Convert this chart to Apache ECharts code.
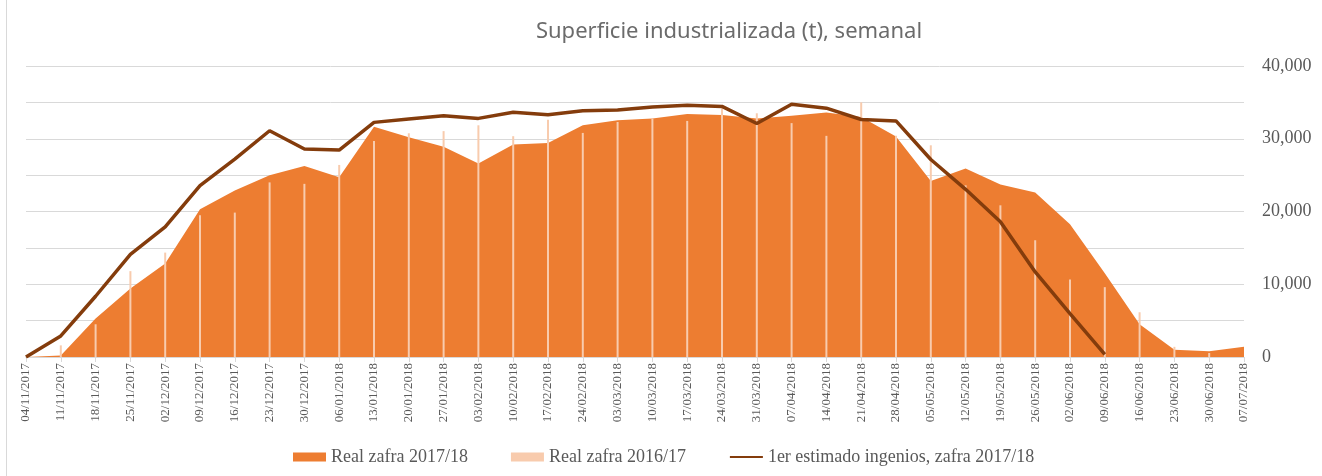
<!DOCTYPE html>
<html>
<head>
<meta charset="utf-8">
<script src="https://cdn.jsdelivr.net/npm/echarts@6/dist/echarts.min.js"></script>
<style>
html, body { margin: 0; padding: 0; background: #fff; }
#chart { width: 1322px; height: 476px; }
</style>
</head>
<body>
<div id="chart"></div>
<script>
var weeks = ['04/11/2017','11/11/2017','18/11/2017','25/11/2017','02/12/2017','09/12/2017','16/12/2017','23/12/2017','30/12/2017',
  '06/01/2018','13/01/2018','20/01/2018','27/01/2018','03/02/2018','10/02/2018','17/02/2018','24/02/2018','03/03/2018',
  '10/03/2018','17/03/2018','24/03/2018','31/03/2018','07/04/2018','14/04/2018','21/04/2018','28/04/2018','05/05/2018',
  '12/05/2018','19/05/2018','26/05/2018','02/06/2018','09/06/2018','16/06/2018','23/06/2018','30/06/2018','07/07/2018'];

// Real zafra 2017/18 (area)
var real1718 = [0, 200, 5300, 9400, 12850, 20300, 22900, 25000, 26250, 24700, 31650, 30200, 28900, 26600, 29200, 29400,
  31850, 32550, 32800, 33400, 33250, 32800, 33150, 33600, 33000, 30300, 24200, 25900, 23700, 22600, 18250, 11500,
  4500, 1000, 800, 1400];

// Real zafra 2016/17 (thin bars)
var real1617 = [0, 1600, 4500, 11800, 14350, 19500, 19850, 24000, 23800, 26400, 29700, 30750, 31050, 31850, 30350, 32600,
  30800, 32300, 32750, 32450, 34200, 33500, 32150, 30400, 35000, 30400, 29100, 23600, 20850, 16050, 10650, 9600,
  6150, 1400, 550, 0];

// 1er estimado ingenios, zafra 2017/18
var estimado = [0, 2900, 8350, 14100, 17900, 23550, 27200, 31100, 28600, 28450, 32250, 32700, 33150, 32800, 33650, 33300,
  33850, 33950, 34350, 34600, 34450, 32100, 34750, 34200, 32650, 32450, 27150, 23050, 18600, 11700, 5950, 350,
  null, null, null, null];

var chart = echarts.init(document.getElementById('chart'));
chart.setOption({
  animation: false,
  title: {
    text: 'Superficie industrializada (t), semanal',
    left: 724, top: 16, textAlign: 'center',
    textStyle: { fontFamily: 'Noto Sans', fontSize: 22, fontWeight: 'normal', color: '#6b6b6b' }
  },
  graphic: [{
    type: 'line', shape: { x1: 6.5, y1: 0, x2: 6.5, y2: 476 },
    style: { stroke: '#d9d9d9', lineWidth: 1 }
  }],
  legend: {
    left: 288, top: 443,
    itemWidth: 33, itemHeight: 9, itemGap: 43,
    textStyle: { fontFamily: 'Liberation Serif', fontSize: 18, color: '#595959' },
    data: [
      { name: 'Real zafra 2017/18', icon: 'rect' },
      { name: 'Real zafra 2016/17', icon: 'rect' },
      { name: '1er estimado ingenios, zafra 2017/18', itemStyle: { opacity: 0 } }
    ]
  },
  grid: { left: 26, right: 78, top: 66, bottom: 119 },
  xAxis: {
    type: 'category', data: weeks, boundaryGap: false,
    axisLine: { lineStyle: { color: '#d9d9d9' } },
    axisTick: { show: true, length: 5, lineStyle: { color: '#d9d9d9' } },
    axisLabel: { rotate: 90, interval: 0, margin: 6, fontFamily: 'Liberation Serif', fontSize: 13, color: '#595959' }
  },
  yAxis: {
    type: 'value', position: 'right', min: 0, max: 40000, interval: 5000,
    axisLine: { show: false }, axisTick: { show: false },
    splitLine: { lineStyle: { color: '#d9d9d9' } },
    axisLabel: {
      margin: 18, align: 'left', fontFamily: 'Liberation Serif', fontSize: 18, color: '#595959',
      formatter: function (v) { return v % 10000 === 0 ? v.toLocaleString('en-US') : ''; }
    }
  },
  series: [
    {
      name: 'Real zafra 2017/18', type: 'line', data: real1718,
      symbol: 'none', lineStyle: { width: 0 }, itemStyle: { color: '#ed7d31' },
      areaStyle: { color: '#ed7d31', opacity: 1 }, z: 1
    },
    {
      name: 'Real zafra 2016/17', type: 'bar', data: real1617,
      barWidth: 2, itemStyle: { color: '#f8cbad' }, z: 2
    },
    {
      name: '1er estimado ingenios, zafra 2017/18', type: 'line', data: estimado,
      symbol: 'none', lineStyle: { width: 3.5, color: '#843c0c' }, itemStyle: { color: '#843c0c' }, z: 3
    }
  ]
});
window.onresize = function () { chart.resize(); };
</script>
</body>
</html>
